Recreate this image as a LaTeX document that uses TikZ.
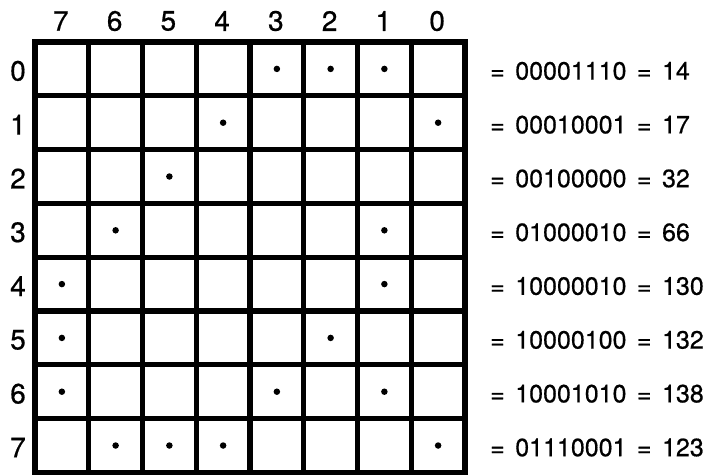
\documentclass[tikz,border=0pt]{standalone}
\usepackage{fontspec}
\setmainfont{TeX Gyre Heros}
\newfontfamily\medfont[FakeBold=0.6]{TeX Gyre Heros}
\begin{document}
\begin{tikzpicture}[x=1pt,y=-1pt,
  gridline/.style={line width=5.2pt,line cap=rect},
  lbl/.style={font=\fontsize{28}{28}\medfont,inner sep=0pt},
  eqn/.style={font=\fontsize{25}{25}\medfont,inner sep=0pt,anchor=west},
  bitdot/.style={circle,fill=black,inner sep=0pt,minimum size=6.5pt}]
\useasboundingbox (0,0) rectangle (722,475);
\def\L{35}\def\T{42}\def\W{53.75}\def\H{53.8}
% grid
\foreach \i in {0,...,8}{
  \draw[gridline] ({\L+\i*\W},\T) -- ({\L+\i*\W},{\T+8*\H});
  \draw[gridline] (\L,{\T+\i*\H}) -- ({\L+8*\W},{\T+\i*\H});
}
% column labels
\foreach \i/\b in {0/7,1/6,2/5,3/4,4/3,5/2,6/1,7/0}
  \node[lbl] (col\b) at ({\L+(\i+0.5)*\W-1},21) {\b};
% row labels
\foreach \r in {0,...,7}
  \node[lbl] (row\r) at (18,{\T+(\r+0.5)*\H+2}) {\r};
% dots
\foreach \i/\r in {4/0,5/0,6/0, 3/1,7/1, 2/2, 1/3,6/3, 0/4,6/4, 0/5,5/5, 0/6,4/6,6/6, 1/7,2/7,3/7,7/7}
  \node[bitdot] (d\i\r) at ({\L+(\i+0.5)*\W},{\T+(\r+0.5)*\H}) {};
% equations
\foreach \r/\bits/\val in {0/00001110/14,1/00010001/17,2/00100000/32,3/01000010/66,
  4/10000010/130,5/10000100/132,6/10001010/138,7/01110001/123}
  \node[eqn] (eq\r) at (490,{\T+(\r+0.5)*\H+2}) {=\hspace{0.42em}\bits\hspace{0.42em}=\hspace{0.42em}\val};
\end{tikzpicture}
\end{document}
